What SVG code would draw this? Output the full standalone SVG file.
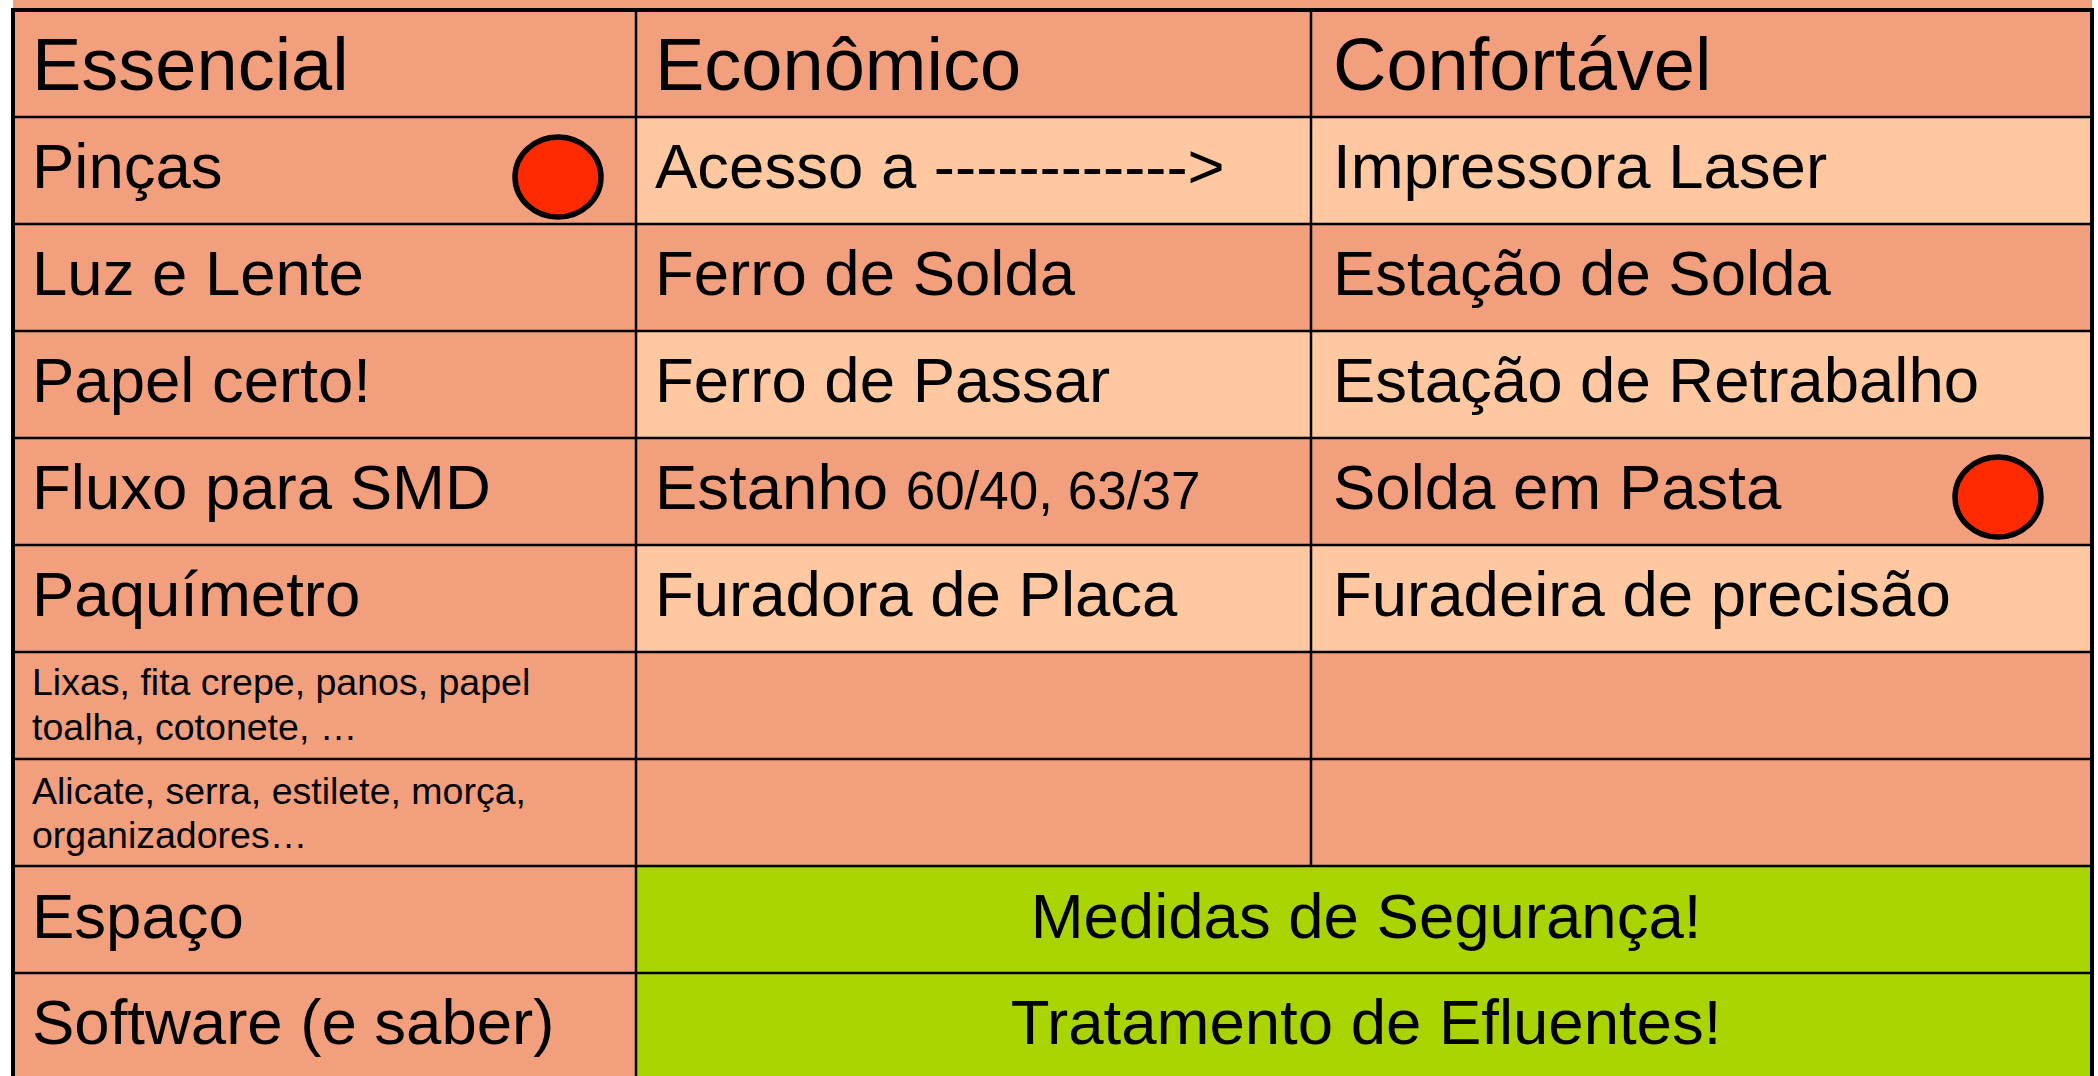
<svg xmlns="http://www.w3.org/2000/svg" width="2098" height="1076" viewBox="0 0 2098 1076">
<style>
.o{fill:#F29F7D}
.p{fill:#FFC8A0}
.g{fill:#AAD400}
.t{font-family:"Liberation Sans",Arial,sans-serif;fill:#000}
.h{font-size:74px}
.b{font-size:63.5px}
.s{font-size:37.5px}
.n{font-size:53px}
.ln{stroke:#000;stroke-width:2.5;fill:none}
.bd{stroke:#000;stroke-width:4;fill:none}
.dot{fill:#FF2A00;stroke:#000;stroke-width:5.5}
</style>
<rect width="2098" height="1076" fill="#fff"/>
<g id="cells">
<rect class="o" x="13" y="0" width="2079" height="117"/>
<rect class="o" x="13" y="117" width="623" height="107"/>
<rect class="p" x="636" y="117" width="1456" height="107"/>
<rect class="o" x="13" y="224" width="2079" height="107"/>
<rect class="o" x="13" y="331" width="623" height="107"/>
<rect class="p" x="636" y="331" width="1456" height="107"/>
<rect class="o" x="13" y="438" width="2079" height="107"/>
<rect class="o" x="13" y="545" width="623" height="107"/>
<rect class="p" x="636" y="545" width="1456" height="107"/>
<rect class="o" x="13" y="652" width="2079" height="214"/>
<rect class="o" x="13" y="866" width="623" height="210"/>
<rect class="g" x="636" y="866" width="1456" height="210"/>
</g>
<g id="grid">
<path class="ln" d="M13 117H2092M13 224H2092M13 331H2092M13 438H2092M13 545H2092M13 652H2092M13 759H2092M13 866H2092M13 973H2092"/>
<path class="ln" d="M636 10V1076M1311 10V866"/>
<path class="bd" d="M13 1076V10H2092V1076"/>
</g>
<g id="header">
<text class="t h" x="32" y="90">Essencial</text>
<text class="t h" x="655" y="90">Econômico</text>
<text class="t h" x="1333" y="90">Confortável</text>
</g>
<g id="essencial">
<text class="t b" x="32" y="188">Pinças</text>
<text class="t b" x="32" y="295">Luz e Lente</text>
<text class="t b" x="32" y="402">Papel certo!</text>
<text class="t b" x="32" y="509">Fluxo para SMD</text>
<text class="t b" x="32" y="616">Paquímetro</text>
<text class="t s" x="32" y="695">Lixas, fita crepe, panos, papel</text>
<text class="t s" x="32" y="740">toalha, cotonete, …</text>
<text class="t s" x="32" y="804">Alicate, serra, estilete, morça,</text>
<text class="t s" x="32" y="848">organizadores…</text>
<text class="t b" x="32" y="938">Espaço</text>
<text class="t b" x="32" y="1044">Software (e saber)</text>
</g>
<g id="economico">
<text class="t b" x="655" y="188">Acesso a ------------&gt;</text>
<text class="t b" x="655" y="295">Ferro de Solda</text>
<text class="t b" x="655" y="402">Ferro de Passar</text>
<text class="t b" x="655" y="509">Estanho <tspan class="n">60/40, 63/37</tspan></text>
<text class="t b" x="655" y="616">Furadora de Placa</text>
</g>
<g id="confortavel">
<text class="t b" x="1333" y="188">Impressora Laser</text>
<text class="t b" x="1333" y="295">Estação de Solda</text>
<text class="t b" x="1333" y="402">Estação de Retrabalho</text>
<text class="t b" x="1333" y="509">Solda em Pasta</text>
<text class="t b" x="1333" y="616">Furadeira de precisão</text>
</g>
<g id="green">
<text class="t b" x="1366" y="938" text-anchor="middle">Medidas de Segurança!</text>
<text class="t b" x="1366" y="1044" text-anchor="middle">Tratamento de Efluentes!</text>
</g>
<g id="markers">
<ellipse class="dot" cx="558" cy="177" rx="43" ry="40"/>
<ellipse class="dot" cx="1998" cy="497" rx="43" ry="40"/>
</g>
</svg>
